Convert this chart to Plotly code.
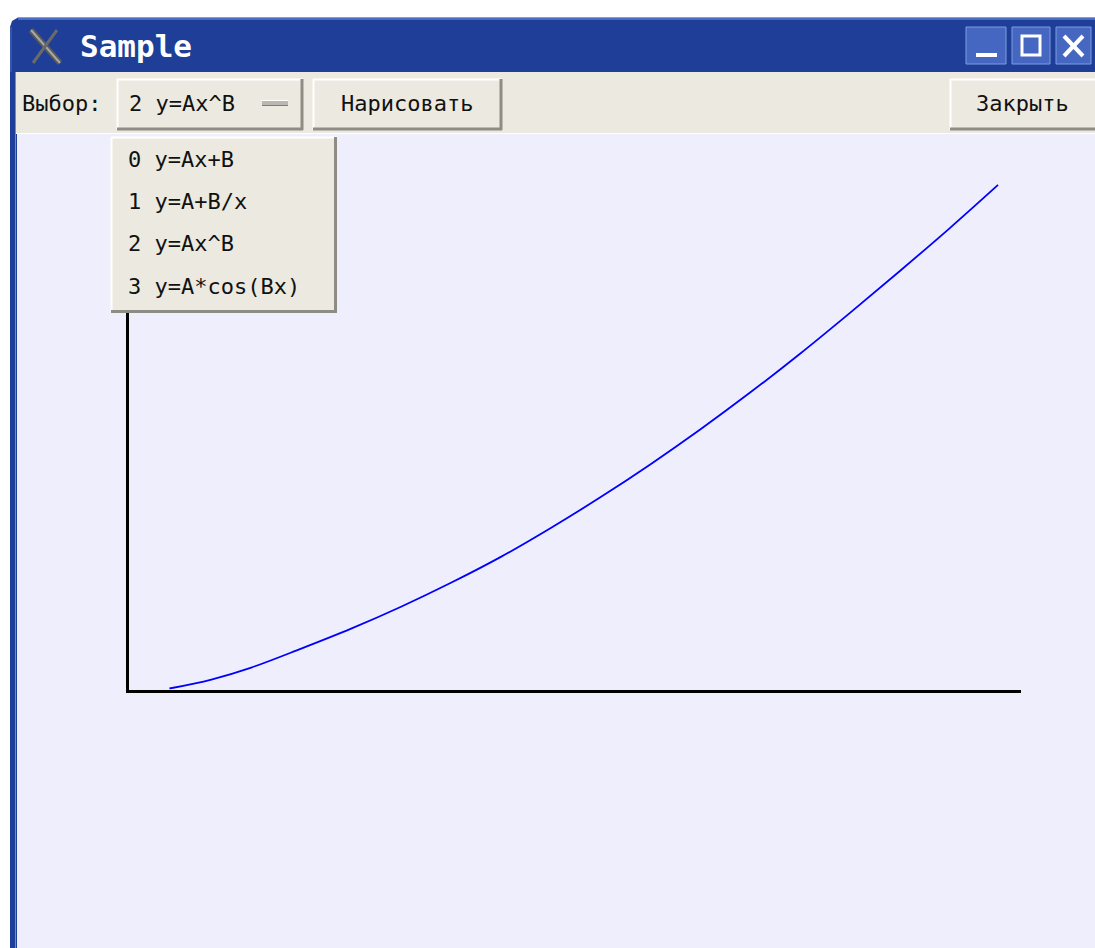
import plotly.graph_objects as go

W, H = 1095, 948

# ---- data ----
curve_x = [0.41, 0.83, 1.23, 1.73, 2.23, 2.73, 3.23, 3.73, 4.23, 4.73, 5.23, 5.73, 6.23, 6.73, 7.23, 7.73, 8.23, 8.71]
curve_y = [0.01, 0.10, 0.22, 0.41, 0.61, 0.83, 1.07, 1.33, 1.62, 1.93, 2.26, 2.61, 2.98, 3.37, 3.78, 4.20, 4.63, 5.06]
x_range = [0, 8.94]
y_range = [0, 5.31]

window_title = "Sample"
choice_label = "Выбор:"
selected_item = "2 y=Ax^B"
draw_button = "Нарисовать"
close_button = "Закрыть"
menu_items = ["0 y=Ax+B", "1 y=A+B/x", "2 y=Ax^B", "3 y=A*cos(Bx)"]

# ---- colours ----
CANVAS = "#EEEEFC"
TOOLBAR = "#ECE9E0"
TITLE_BLUE = "#1E3E97"
TITLE_HI = "#4A6CC4"
BTN_BLUE = "#4567C2"
BTN_EDGE = "#7F9BE0"
SHADOW = "#8E8C85"
TEXT_FONT = "DejaVu Sans Mono"

shapes = []


def rect(x0, y0, x1, y1, fill, layer="below", line_color=None, line_width=0):
    shapes.append(dict(type="rect", xref="paper", yref="paper",
                       x0=x0 / W, x1=x1 / W, y0=1 - y1 / H, y1=1 - y0 / H,
                       fillcolor=fill, layer=layer,
                       line=dict(width=line_width, color=line_color or fill)))


def seg(x0, y0, x1, y1, color, width, layer="below"):
    shapes.append(dict(type="line", xref="paper", yref="paper",
                       x0=x0 / W, x1=x1 / W, y0=1 - y0 / H, y1=1 - y1 / H,
                       line=dict(color=color, width=width), layer=layer))


def path(points, fill, layer="below"):
    d = "M " + " L ".join(f"{x / W},{1 - y / H}" for x, y in points) + " Z"
    shapes.append(dict(type="path", xref="paper", yref="paper", path=d,
                       fillcolor=fill, line=dict(width=0), layer=layer))


# canvas
rect(16, 133, W, H, CANVAS)
# left window border
rect(10, 60, 17, H, TITLE_BLUE)
seg(15.5, 72, 15.5, H, "#6E8BD6", 1)
# title bar with rounded top-left corner
path([(10, 72), (10, 27), (12, 21), (18, 17.5), (W, 17.5), (W, 72)], TITLE_BLUE)
seg(18, 19, W, 19, TITLE_HI, 2)
seg(11, 27, 11, 72, TITLE_HI, 1)
# X logo
seg(31, 30, 60, 63, "#5A5A5A", 6)
seg(31, 30, 60, 63, "#A8A8A8", 2)
seg(57, 30, 33, 63, "#6A6A6A", 3)
# title-bar buttons
for bx0, bx1 in [(966, 1006), (1012, 1050), (1056, 1091)]:
    rect(bx0, 27, bx1, 64, BTN_BLUE, line_color=BTN_EDGE, line_width=1)
seg(976, 55, 997, 55, "white", 4)
rect(1022, 36, 1040, 55, "rgba(0,0,0,0)", line_color="white", line_width=3)
seg(1064, 36, 1083, 56, "white", 4)
seg(1083, 36, 1064, 56, "white", 4)

# toolbar
rect(16, 72, W, 134, TOOLBAR)
seg(16, 133.5, W, 133.5, "#FFFFFF", 1)


def button(x0, y0, x1, y1):
    rect(x0, y0, x1, y1, TOOLBAR)
    seg(x0, y0 + 0.5, x1, y0 + 0.5, "#FFFFFF", 2)
    seg(x0 + 0.5, y0, x0 + 0.5, y1, "#FFFFFF", 2)
    seg(x0, y1 - 1, x1, y1 - 1, SHADOW, 3)
    seg(x1 - 1, y0, x1 - 1, y1, SHADOW, 3)


button(117, 79, 303, 130)
button(313, 79, 502, 130)
button(950, 79, 1100, 130)
# option-menu indicator
rect(262, 100, 288, 106, "#B9B7B0")
seg(262, 100.5, 288, 100.5, "#FFFFFF", 1)
seg(262, 105.5, 288, 105.5, "#7E7C76", 1)

# dropdown menu (above the axes)
rect(111, 137, 337, 313, TOOLBAR, layer="above")
seg(111, 137.5, 337, 137.5, "#FFFFFF", 2, layer="above")
seg(111.5, 137, 111.5, 313, "#FFFFFF", 2, layer="above")
seg(111, 311.5, 337, 311.5, SHADOW, 3, layer="above")
seg(335.5, 137, 335.5, 313, SHADOW, 3, layer="above")

annotations = []


def text(x, y, s, size=22, color="#111111", anchor="left", bold=False):
    annotations.append(dict(xref="paper", yref="paper", x=x / W, y=1 - y / H,
                            text=f"<b>{s}</b>" if bold else s, showarrow=False,
                            xanchor=anchor, yanchor="middle",
                            font=dict(family=TEXT_FONT, size=size, color=color)))


text(78, 46, window_title, size=31, color="white", bold=True)
text(20, 103, choice_label)
text(127, 103, selected_item)
text(407, 103, draw_button, anchor="center")
text(1022, 103, close_button, anchor="center")
for i, item in enumerate(menu_items):
    text(126, 160 + i * 42, item)

fig = go.Figure()
fig.add_trace(go.Scatter(x=curve_x, y=curve_y, mode="lines",
                         line=dict(color="#0000FF", width=1.8, shape="spline"),
                         hoverinfo="skip", showlegend=False))

fig.update_layout(
    width=W, height=H, margin=dict(l=0, r=0, t=0, b=0),
    paper_bgcolor="white", plot_bgcolor="rgba(0,0,0,0)",
    shapes=shapes, annotations=annotations, showlegend=False,
    xaxis=dict(domain=[128.5 / W, 1021 / W], range=x_range, showgrid=False,
               zeroline=False, showticklabels=False, ticks="", showline=True,
               linecolor="black", linewidth=3, fixedrange=True),
    yaxis=dict(domain=[1 - 689.5 / H, 1 - 160 / H], range=y_range, showgrid=False,
               zeroline=False, showticklabels=False, ticks="", showline=True,
               linecolor="black", linewidth=3, fixedrange=True),
)

fig.write_html("out.html", config={"displayModeBar": False},
               post_script="document.body.style.margin='0';document.body.style.overflow='hidden';")
